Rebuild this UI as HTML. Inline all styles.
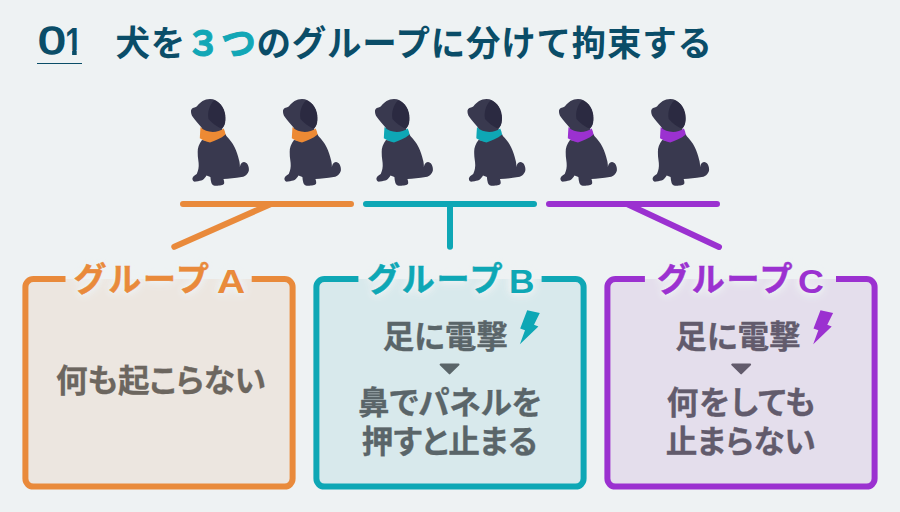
<!DOCTYPE html>
<html lang="ja">
<head>
<meta charset="utf-8">
<title>犬を3つのグループに分けて拘束する</title>
<style>
html,body{margin:0;padding:0;}
body{width:900px;height:512px;overflow:hidden;background:#eef2f3;font-family:"Liberation Sans","Noto Sans CJK JP",sans-serif;position:relative;}
.abs{position:absolute;}
#num{left:0;top:0;color:#0a4d68;white-space:nowrap;}
#num span{position:absolute;display:block;line-height:1;transform-origin:0 0;}
#num .z{left:38.3px;top:22.3px;font-size:49px;font-weight:400;transform:scaleY(0.78);-webkit-text-stroke:1.8px #0a4d68;}
#num .o{left:64.9px;top:21.5px;font-size:39px;font-weight:700;transform:scaleX(0.8);clip-path:polygon(0 0,100% 0,100% 73%,67.3% 73%,67.3% 100%,41% 100%,41% 73%,0 73%);}
#numline{left:37px;top:62.5px;width:44.5px;height:1.6px;background:#0a4d68;}
#title{left:115.5px;top:21px;transform:scaleY(1.03);transform-origin:0 82%;font-size:34.5px;font-weight:700;color:#0a4d68;line-height:46px;letter-spacing:0.75px;white-space:nowrap;}
#title .hl{color:#12a7b6;-webkit-text-stroke:1px #12a7b6;}
svg{position:absolute;left:0;top:0;}
.lab{position:absolute;top:258px;height:44px;line-height:44px;font-size:33px;font-weight:700;white-space:nowrap;text-align:left;letter-spacing:1.8px;text-shadow:0 0 3px #eef2f3,0 0 6px #eef2f3,0 0 9px #eef2f3,0 0 12px #eef2f3;z-index:2;-webkit-text-stroke:0.5px currentColor;}
.lab span{display:inline-block;font-size:32px;transform:scale(1.22,1.05);transform-origin:0 80%;margin-left:6px;letter-spacing:0;position:relative;top:1.5px;-webkit-text-stroke:0;}
#la{left:73.5px;width:186px;color:#e98a3b;}
#lb span{transform:scale(1.1,1.02);margin-left:5px;}
#lb{left:367px;width:186px;color:#0ea7b5;}
#lc span{transform:scale(1.12,1.04);margin-left:4px;}
#lc{left:657px;width:186px;color:#9b31d0;}
.txt{position:absolute;font-feature-settings:"palt";font-size:31.6px;font-weight:700;color:#666;white-space:nowrap;text-align:center;line-height:44px;-webkit-text-stroke:0.3px currentColor;}
.ta{color:#6c665f;}
.tb{color:#5a6569;}
.tc{color:#625b6c;}
</style>
</head>
<body>
<div id="num" class="abs"><span class="z">0</span><span class="o">1</span></div>
<div id="numline" class="abs"></div>
<div id="title" class="abs">犬を<span class="hl">３つ</span>のグループに分けて拘束する</div>

<svg id="boxes" width="900" height="512" viewBox="0 0 900 512">
<rect x="25.4" y="279" width="267.2" height="207.6" rx="8" fill="#ece6e0"/>
<path d="M65.5,279 H33.4 A8,8 0 0 0 25.4,287 V478.6 A8,8 0 0 0 33.4,486.6 H284.6 A8,8 0 0 0 292.6,478.6 V287 A8,8 0 0 0 284.6,279 H251.7" fill="none" stroke="#e98a3b" stroke-width="6"/>
<rect x="316.4" y="279" width="267.2" height="207.6" rx="8" fill="#d8e9ec"/>
<path d="M358.4,279 H324.4 A8,8 0 0 0 316.4,287 V478.6 A8,8 0 0 0 324.4,486.6 H575.6 A8,8 0 0 0 583.6,478.6 V287 A8,8 0 0 0 575.6,279 H541.6" fill="none" stroke="#0ea7b5" stroke-width="6"/>
<rect x="607.4" y="279" width="267.2" height="207.6" rx="8" fill="#e4deec"/>
<path d="M644.9,279 H615.4 A8,8 0 0 0 607.4,287 V478.6 A8,8 0 0 0 615.4,486.6 H866.6 A8,8 0 0 0 874.6,478.6 V287 A8,8 0 0 0 866.6,279 H836" fill="none" stroke="#9b31d0" stroke-width="6"/>
</svg>
<div id="la" class="lab">グループ<span>A</span></div>
<div id="lb" class="lab">グループ<span>B</span></div>
<div id="lc" class="lab">グループ<span>C</span></div>

<div class="txt ta" style="left:24px;width:274px;top:359px;">何も起こらない</div>

<div class="txt tb" style="left:308.3px;width:274px;top:314.8px;">足に電撃</div>
<div class="txt tb" style="left:313px;width:274px;top:381px;">鼻でパネルを</div>
<div class="txt tb" style="left:312.6px;width:274px;top:419.6px;">押すと止まる</div>

<div class="txt tc" style="left:601px;width:274px;top:314.8px;">足に電撃</div>
<div class="txt tc" style="left:604.5px;width:274px;top:381px;letter-spacing:0.9px;">何をしても</div>
<div class="txt tc" style="left:603.7px;width:274px;top:419.6px;">止まらない</div>

<svg width="900" height="512" viewBox="0 0 900 512">
<defs>
<g id="dog">
  <path fill="#39394f" d="M6,20 C5.6,17.5 7,16 9.5,15.4 C10.5,15.1 11.3,14.9 12,14.3 C15,10 19.5,6.9 25,6.9 C33,6.9 39,14.5 40,24 C40.6,30 39.5,34 37,37 L38,41 L18,41 L16.5,35.5 C13.5,32 10,28 7.5,24.5 C6.5,23 6.2,21.5 6,20 Z"/>
  <path fill="#2b2a41" d="M29,8.5 C36,10 40.5,18 40.5,26 C40.5,33 38,37 35,36 C31,34 27,31 23.5,27 C22,20 25,12 29,8.5Z"/>
  <path fill="#39394f" d="M17,48 C14,52 12.5,56 12.7,60 C12.5,66 14,70 13.7,74 C13.5,78 12.5,80 11.7,82 C9,83.5 7.5,85 7.4,86.5 C7.3,89 9,90 11,89.5 C14,89 16,88.5 17.6,88 C19.5,86.5 20.5,85 21.5,83.5 L25.4,85 C25.5,87 25.8,89 26.4,91 C27,93.5 30,94 32.5,93.7 C36,93.5 39,93 39.2,91 C39.3,89 38.8,88 38.4,86.9 C44,86.8 50,86.2 56.6,85.1 C59,84.6 60.8,83.6 61.9,82.2 C63.3,80.6 64,79 63.9,77.5 C63.9,75.5 63.4,73.6 62.5,72.2 C61.6,70.8 60.4,70 59,69.9 C57.5,69.9 56.3,70.9 55.7,72.2 C55.2,73.2 55,74.2 54.9,75.2 C54.9,72.5 54.6,70 54,68.1 C53,63.5 51.5,59 49.6,55.2 C47.5,51 44.5,47.3 41.4,44.1 L40.5,42 L25,49 Z"/>
  <path class="collar" d="M15.5,35 C21,41 32,41.5 38.7,36.5 C39.7,38.5 40.2,40.5 40.6,42.5 C36,46.5 30,48.5 25,50.6 C21,49.6 17.5,48 14.8,46.3 C15,42.5 15.2,38.5 15.5,35 Z"/>
</g>
</defs>
<g fill="#ed8a34"><use href="#dog" x="185" y="92"/><use href="#dog" x="277" y="92"/></g>
<g fill="#0ea7b5"><use href="#dog" x="369" y="92"/><use href="#dog" x="461.5" y="92"/></g>
<g fill="#9b31d0"><use href="#dog" x="553" y="92"/><use href="#dog" x="645.2" y="92"/></g>

<g fill="none" stroke-width="6" stroke-linecap="round" stroke-linejoin="round">
  <path stroke="#e98a3b" d="M183,204 H351 M271,204 L174.3,246.8"/>
  <path stroke="#0ea7b5" d="M366,204 H534 M450,204 V246.8"/>
  <path stroke="#9b31d0" d="M549,204 H717 M627,204 L719,247"/>
</g>

<defs><path id="bolt" d="M27.2,10.3 L39.8,13.1 L34,24.8 L38.4,26.4 L19.9,44.3 L25,30.2 L20.2,28.4 Z"/></defs>
<use href="#bolt" x="500" y="300" fill="#0ea7b5"/>
<use href="#bolt" x="793.3" y="300" fill="#9b31d0"/>
<path fill="#5a6569" stroke="#5a6569" stroke-width="2" stroke-linejoin="round" d="M440.6,364.6 H458.5 L449.55,373.4 Z"/>
<path fill="#625b6c" stroke="#625b6c" stroke-width="2" stroke-linejoin="round" d="M732.2,364.6 H750.1 L741.15,373.4 Z"/>
</svg>
</body>
</html>
